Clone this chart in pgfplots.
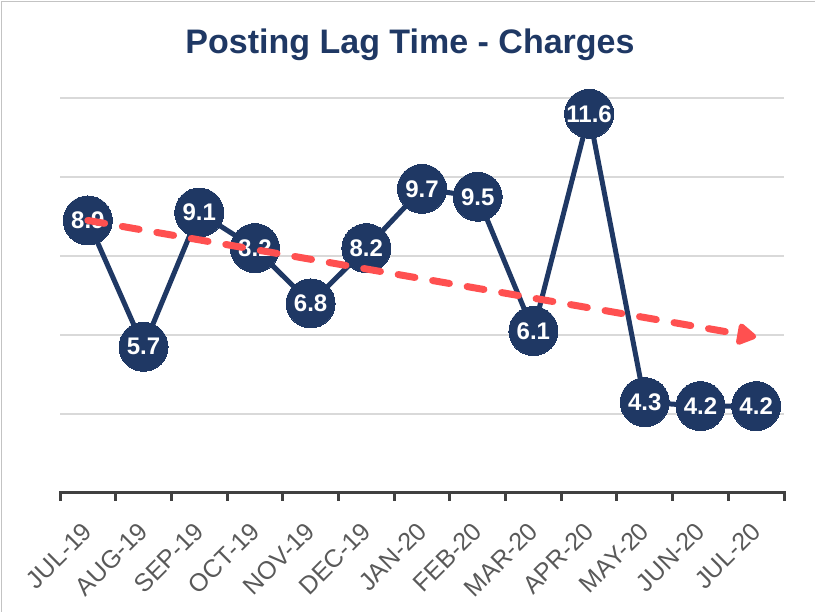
\documentclass[border=0pt]{standalone}
\usepackage{pgfplots}
\pgfplotsset{compat=1.18}
\usepackage{fontspec}
\setmainfont{Liberation Sans}
\usetikzlibrary{arrows.meta}
\definecolor{navy}{RGB}{31,56,100}
\definecolor{trendred}{RGB}{255,80,80}
\definecolor{gridgray}{RGB}{217,217,217}
\definecolor{axisgray}{RGB}{64,64,64}
\definecolor{labelgray}{RGB}{89,89,89}
\pgfplotsset{samebox/.style={at={(60bp,119bp)}, anchor=south west,
  scale only axis, width=724bp, height=395bp,
  xmin=-0.5, xmax=12.5, ymin=2, ymax=12, clip=false}}
\begin{document}
\begin{tikzpicture}[x=1bp,y=1bp]
\useasboundingbox (0,0) rectangle (815,612);
\draw[color=gridgray!90!black, line width=1.2bp] (1.5,0) -- (1.5,610.5) -- (815,610.5);
\node[anchor=base, text=navy, font=\fontsize{34bp}{38bp}\selectfont\bfseries] at (410,558) {Posting Lag Time - Charges};
\begin{axis}[
  samebox,
  axis x line*=bottom, axis y line*=left,
  y axis line style={draw=none},
  x axis line style={draw=axisgray, line width=3bp, line cap=rect},
  ytick={4,6,8,10,12}, yticklabels={}, ytick style={draw=none},
  ymajorgrids, major grid style={draw=gridgray, line width=2bp},
  xtick={0,...,12},
  xticklabels={JUL-19,AUG-19,SEP-19,OCT-19,NOV-19,DEC-19,JAN-20,FEB-20,MAR-20,APR-20,MAY-20,JUN-20,JUL-20},
  major x tick style={draw=none},
  minor xtick={-0.5,0.5,...,12.5},
  minor x tick style={draw=axisgray, line width=3bp},
  xtick align=outside, minor tick length=8bp,
  xticklabel style={rotate=45, anchor=east, inner sep=0pt, text=labelgray,
     font=\fontsize{25bp}{28bp}\selectfont, yshift=-21bp, xshift=-21bp},
]
\addplot[navy, line width=5bp, mark=*, mark size=24.5bp, mark options={fill=navy, draw=navy, line width=0pt},
  point meta=explicit symbolic, nodes near coords,
  every node near coord/.style={anchor=center, text=white, inner sep=0pt,
    font=\fontsize{24bp}{26bp}\selectfont\bfseries}]
coordinates {
(0,8.9) [8.9]
(1,5.7) [5.7]
(2,9.1) [9.1]
(3,8.2) [8.2]
(4,6.8) [6.8]
(5,8.2) [8.2]
(6,9.7) [9.7]
(7,9.5) [9.5]
(8,6.1) [6.1]
(9,11.6) [11.6]
(10,4.3) [4.3]
(11,4.2) [4.2]
(12,4.2) [4.2]
};
\end{axis}
\begin{axis}[samebox, hide axis]
\addplot[trendred, line width=7bp, dash pattern=on 17bp off 18bp, line cap=round,
  -{Triangle[length=22bp,width=24bp,round=false]}, shorten >=0bp]
coordinates {(0,8.9) (12,5.95)};
\end{axis}
\end{tikzpicture}
\end{document}
